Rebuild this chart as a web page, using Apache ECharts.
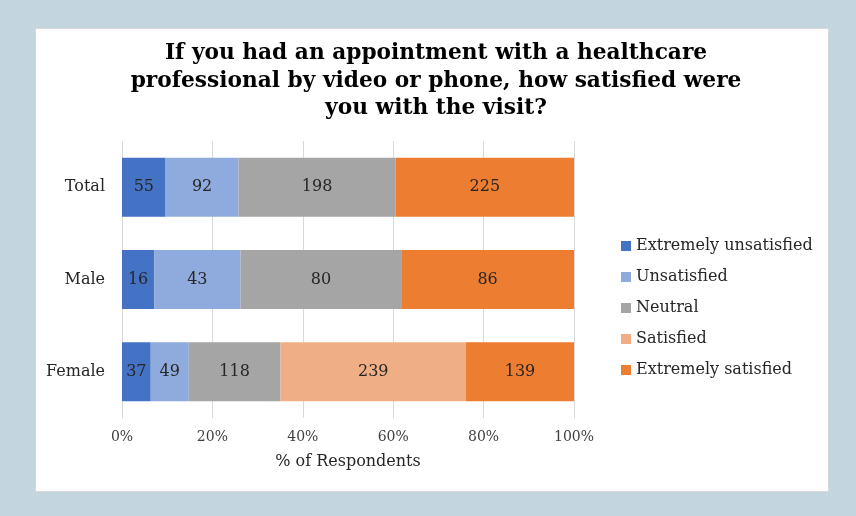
<!DOCTYPE html>
<html><head><meta charset="utf-8">
<script src="https://cdn.jsdelivr.net/npm/echarts@6/dist/echarts.min.js"></script>
<style>
html,body{margin:0;padding:0;background:#c3d5de;}
#panel{position:absolute;left:35px;top:28px;width:792px;height:462px;background:#fff;border:1px solid #d9d9d9;}
#c{position:absolute;left:0;top:0;width:856px;height:516px;}
</style></head>
<body>
<div id="panel"></div>
<div id="c"></div>
<script>
var categories = ['Total', 'Male', 'Female'];
var seriesNames = ['Extremely unsatisfied', 'Unsatisfied', 'Neutral', 'Satisfied', 'Extremely satisfied'];
var extremelyUnsatisfied = [55, 16, 37];
var unsatisfied = [92, 43, 49];
var neutral = [198, 80, 118];
var satisfied = [0, 0, 239];
var extremelySatisfied = [225, 86, 139];
var xTicks = [0, 20, 40, 60, 80, 100];

var counts = [extremelyUnsatisfied, unsatisfied, neutral, satisfied, extremelySatisfied];
var colors = ['#4472C4', '#8FAADC', '#A5A5A5', '#F0AE84', '#ED7D31'];
var totals = categories.map(function(_, i){ return counts.reduce(function(s, a){ return s + a[i]; }, 0); });
var font = 'Georgia, "DejaVu Serif", serif';

var series = counts.map(function(arr, k){
  return {
    name: seriesNames[k], type: 'bar', stack: 'all', barWidth: 59,
    itemStyle: { color: colors[k] },
    label: { show: true, position: 'inside', fontFamily: font, fontSize: 16, color: '#262626',
      formatter: function(p){ var v = arr[p.dataIndex]; return v ? String(v) : ''; } },
    data: arr.map(function(v, i){ return v / totals[i] * 100; })
  };
});

var chart = echarts.init(document.getElementById('c'));
chart.setOption({
  animation: false,
  title: { text: 'If you had an appointment with a healthcare\nprofessional by video or phone, how satisfied were\nyou with the visit?',
    left: 431, textAlign: 'center', top: 35,
    textStyle: { fontFamily: font, fontWeight: 'bold', fontSize: 21.7, lineHeight: 27.5, color: '#000' } },
  legend: { orient: 'vertical', left: 616, top: 233, itemWidth: 10, itemHeight: 10, itemGap: 15,
    icon: 'rect', data: seriesNames,
    textStyle: { fontFamily: font, fontSize: 16, color: '#262626' } },
  grid: { left: 122, right: 282, top: 141, bottom: 98, containLabel: false },
  xAxis: { type: 'value', min: 0, max: 100, interval: 20,
    axisLine: { show: false }, axisTick: { show: false },
    splitLine: { lineStyle: { color: '#d9d9d9', width: 1 } },
    axisLabel: { fontFamily: font, fontSize: 14, color: '#404040', margin: 12,
      formatter: function(v){ return xTicks.indexOf(v) >= 0 ? v + '%' : ''; } },
    name: '% of Respondents', nameLocation: 'middle', nameGap: 36,
    nameTextStyle: { fontFamily: font, fontSize: 16, color: '#262626' } },
  yAxis: { type: 'category', data: categories, inverse: true,
    axisLine: { show: false }, axisTick: { show: false },
    axisLabel: { fontFamily: font, fontSize: 16, color: '#262626', margin: 17 } },
  series: series
});
</script>
</body></html>
